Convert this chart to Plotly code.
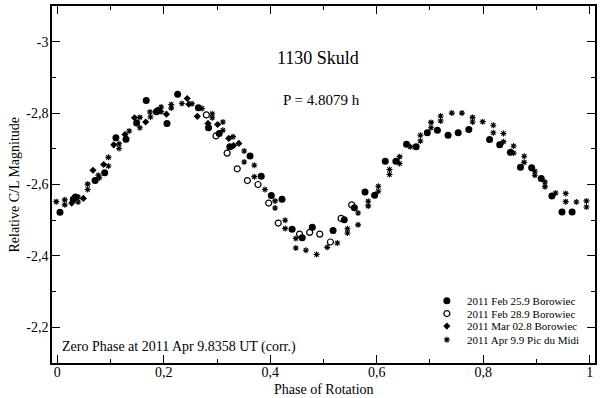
import plotly.graph_objects as go

# ---------------- data ----------------
FEB25_PHASE = [0.005, 0.030, 0.034, 0.071, 0.089, 0.110, 0.129, 0.149, 0.167, 0.186,
               0.189, 0.206, 0.226, 0.265, 0.284, 0.304, 0.324, 0.362, 0.383, 0.402,
               0.422, 0.441, 0.460, 0.479, 0.518, 0.539, 0.558, 0.578, 0.596, 0.616,
               0.636, 0.656, 0.674, 0.695, 0.714, 0.734, 0.753, 0.773, 0.812, 0.831,
               0.851, 0.870, 0.891, 0.909, 0.929, 0.948, 0.967]
FEB25_MAG = [-2.522, -2.559, -2.565, -2.611, -2.633, -2.731, -2.727, -2.772, -2.835, -2.804,
             -2.807, -2.771, -2.853, -2.815, -2.759, -2.743, -2.706, -2.680, -2.623, -2.569,
             -2.559, -2.475, -2.451, -2.480, -2.471, -2.501, -2.535, -2.579, -2.570, -2.665,
             -2.665, -2.713, -2.706, -2.745, -2.752, -2.738, -2.745, -2.754, -2.726, -2.711,
             -2.690, -2.648, -2.647, -2.617, -2.568, -2.523, -2.523]

FEB28_PHASE = [0.280, 0.298, 0.319, 0.338, 0.357, 0.377, 0.397, 0.415, 0.455, 0.474,
               0.493, 0.513, 0.533, 0.553]
FEB28_MAG = [-2.795, -2.736, -2.688, -2.644, -2.611, -2.600, -2.548, -2.492, -2.461, -2.466,
             -2.461, -2.439, -2.505, -2.543]

MAR02_PHASE = [0.027, 0.049, 0.067, 0.087, 0.106, 0.127, 0.145, 0.166, 0.205, 0.244,
               0.247, 0.263, 0.283, 0.301, 0.322, 0.331, 0.341]
MAR02_MAG = [-2.548, -2.561, -2.640, -2.656, -2.711, -2.740, -2.787, -2.775, -2.797, -2.841,
             -2.825, -2.791, -2.771, -2.768, -2.729, -2.709, -2.715]

APR09_PHASE = [-0.002, 0.014, 0.014, 0.039, 0.039, 0.057, 0.057, 0.077, 0.079, 0.096,
               0.096, 0.116, 0.116, 0.135, 0.155, 0.155, 0.174, 0.175, 0.195, 0.195,
               0.214, 0.214, 0.234, 0.253, 0.272, 0.291, 0.291, 0.311, 0.311, 0.330,
               0.351, 0.351, 0.370, 0.370, 0.390, 0.409, 0.409, 0.428, 0.428, 0.448,
               0.448, 0.467, 0.487, 0.507, 0.526, 0.545, 0.545, 0.565, 0.565, 0.584,
               0.584, 0.603, 0.603, 0.624, 0.624, 0.643, 0.643, 0.663, 0.682, 0.682,
               0.702, 0.702, 0.720, 0.720, 0.741, 0.760, 0.780, 0.780, 0.799, 0.819,
               0.819, 0.838, 0.838, 0.857, 0.857, 0.877, 0.877, 0.897, 0.897, 0.916,
               0.916, 0.936, 0.955, 0.955, 0.975, 0.994, 0.994]
APR09_MAG = [-2.552, -2.557, -2.543, -2.565, -2.551, -2.601, -2.586, -2.626, -2.619, -2.676,
             -2.652, -2.714, -2.701, -2.750, -2.788, -2.759, -2.803, -2.789, -2.817, -2.804,
             -2.824, -2.814, -2.827, -2.826, -2.813, -2.798, -2.787, -2.775, -2.752, -2.734,
             -2.694, -2.663, -2.654, -2.622, -2.586, -2.554, -2.534, -2.500, -2.477, -2.449,
             -2.422, -2.416, -2.404, -2.424, -2.436, -2.476, -2.464, -2.520, -2.487, -2.553,
             -2.540, -2.595, -2.581, -2.642, -2.628, -2.678, -2.659, -2.706, -2.738, -2.722,
             -2.774, -2.759, -2.792, -2.778, -2.800, -2.800, -2.788, -2.775, -2.776, -2.766,
             -2.745, -2.743, -2.720, -2.708, -2.688, -2.679, -2.662, -2.637, -2.626, -2.607,
             -2.594, -2.576, -2.575, -2.552, -2.551, -2.554, -2.537]

SERIES_NAMES = ["2011 Feb 25.9 Borowiec", "2011 Feb 28.9 Borowiec",
                "2011 Mar 02.8 Borowiec", "2011 Apr 9.9 Pic du Midi"]

X_TICK_VALS = [0, 0.2, 0.4, 0.6, 0.8, 1.0]
X_TICK_LABELS = ["0", "0,2", "0,4", "0,6", "0,8", "1"]
X_MINOR_VALS = [0.1, 0.3, 0.5, 0.7, 0.9]
Y_TICK_VALS = [-3.0, -2.8, -2.6, -2.4, -2.2]
Y_TICK_LABELS = ["-3", "-2,8", "-2,6", "-2,4", "-2,2"]
Y_MINOR_VALS = [-2.9, -2.7, -2.5, -2.3]

TITLE = "1130 Skuld"
PERIOD_TEXT = "P = 4.8079 h"
ZERO_PHASE_TEXT = "Zero Phase at 2011 Apr 9.8358 UT (corr.)"
X_TITLE = "Phase of Rotation"
Y_TITLE = "Relative C/L Magnitude"

# ---------------- styles ----------------
FONT = "Liberation Serif, Times New Roman, serif"
MARKERS = [
    dict(symbol="circle", size=7, color="black", line=dict(width=0)),
    dict(symbol="circle-open", size=6, color="black", line=dict(width=1.2, color="black")),
    dict(symbol="diamond", size=5.5, color="black", line=dict(width=0)),
    dict(symbol="asterisk-open", size=5, color="black", line=dict(width=1.1, color="black")),
]
SERIES = [(FEB25_PHASE, FEB25_MAG), (FEB28_PHASE, FEB28_MAG),
          (MAR02_PHASE, MAR02_MAG), (APR09_PHASE, APR09_MAG)]

fig = go.Figure()
for (px, py), name, mk in zip(SERIES, SERIES_NAMES, MARKERS):
    fig.add_trace(go.Scatter(x=px, y=py, mode="markers", name=name, marker=mk,
                             showlegend=False, cliponaxis=True))

# custom compact legend, positioned in a pixel-like overlay coordinate system
LEG_KEY_X = 448.3
LEG_TEXT_X = 466.7
LEG_ROW_Y = [300.5, 313.3, 325.8, 339.5]
for name, mk, ry in zip(SERIES_NAMES, MARKERS, LEG_ROW_Y):
    fig.add_trace(go.Scatter(x=[LEG_KEY_X], y=[ry], mode="markers", marker=mk,
                             xaxis="x2", yaxis="y2", showlegend=False, hoverinfo="skip"))
    fig.add_annotation(x=LEG_TEXT_X, y=ry, xref="x2", yref="y2", text=name,
                       showarrow=False, xanchor="left", yanchor="middle",
                       font=dict(family=FONT, size=11, color="black"))

fig.add_annotation(x=319, y=58, xref="x2", yref="y2", text=TITLE, showarrow=False,
                   xanchor="center", yanchor="middle",
                   font=dict(family=FONT, size=18, color="black"))
fig.add_annotation(x=322, y=100, xref="x2", yref="y2", text=PERIOD_TEXT, showarrow=False,
                   xanchor="center", yanchor="middle",
                   font=dict(family=FONT, size=15, color="black"))
fig.add_annotation(x=60, y=346.5, xref="x2", yref="y2", text=ZERO_PHASE_TEXT, showarrow=False,
                   xanchor="left", yanchor="middle",
                   font=dict(family=FONT, size=14, color="black"))

fig.add_annotation(x=0.5, y=0, xref="paper", yref="paper", text=X_TITLE, showarrow=False,
                   xanchor="center", yanchor="middle", yshift=-26.5,
                   font=dict(family=FONT, size=14, color="black"))
fig.add_annotation(x=0, y=0.5, xref="paper", yref="paper", text=Y_TITLE, showarrow=False,
                   xanchor="center", yanchor="middle", xshift=-38, textangle=-90,
                   font=dict(family=FONT, size=14, color="black"))

axis_common = dict(
    showgrid=False, zeroline=False, showline=True, linecolor="black", linewidth=1.5,
    mirror="allticks", ticks="inside", ticklen=8, tickwidth=1, tickcolor="black",
    tickfont=dict(family=FONT, size=14, color="black"), tickmode="array",
)

fig.update_layout(
    width=600, height=398,
    margin=dict(l=52, r=3, t=6, b=35.3),
    paper_bgcolor="white", plot_bgcolor="white",
    showlegend=False,
    font=dict(family=FONT, color="black"),
    xaxis=dict(range=[-0.01, 1.01], tickvals=X_TICK_VALS, ticktext=X_TICK_LABELS,
               ticklabelstandoff=-5,
               minor=dict(tickmode="array", tickvals=X_MINOR_VALS, ticks="inside",
                          ticklen=4, tickcolor="black", tickwidth=1),
               **axis_common),
    yaxis=dict(range=[-2.1, -3.1], tickvals=Y_TICK_VALS, ticktext=Y_TICK_LABELS,
               ticklabelstandoff=-1,
               minor=dict(tickmode="array", tickvals=Y_MINOR_VALS, ticks="inside",
                          ticklen=4, tickcolor="black", tickwidth=1),
               **axis_common),
    xaxis2=dict(range=[52, 597], overlaying="x", anchor="y", visible=False),
    yaxis2=dict(range=[362.7, 6], overlaying="y", anchor="x", visible=False),
)

fig.write_html("out.html", config={"displayModeBar": False},
               post_script="document.body.style.margin='0';document.body.style.padding='0';")
